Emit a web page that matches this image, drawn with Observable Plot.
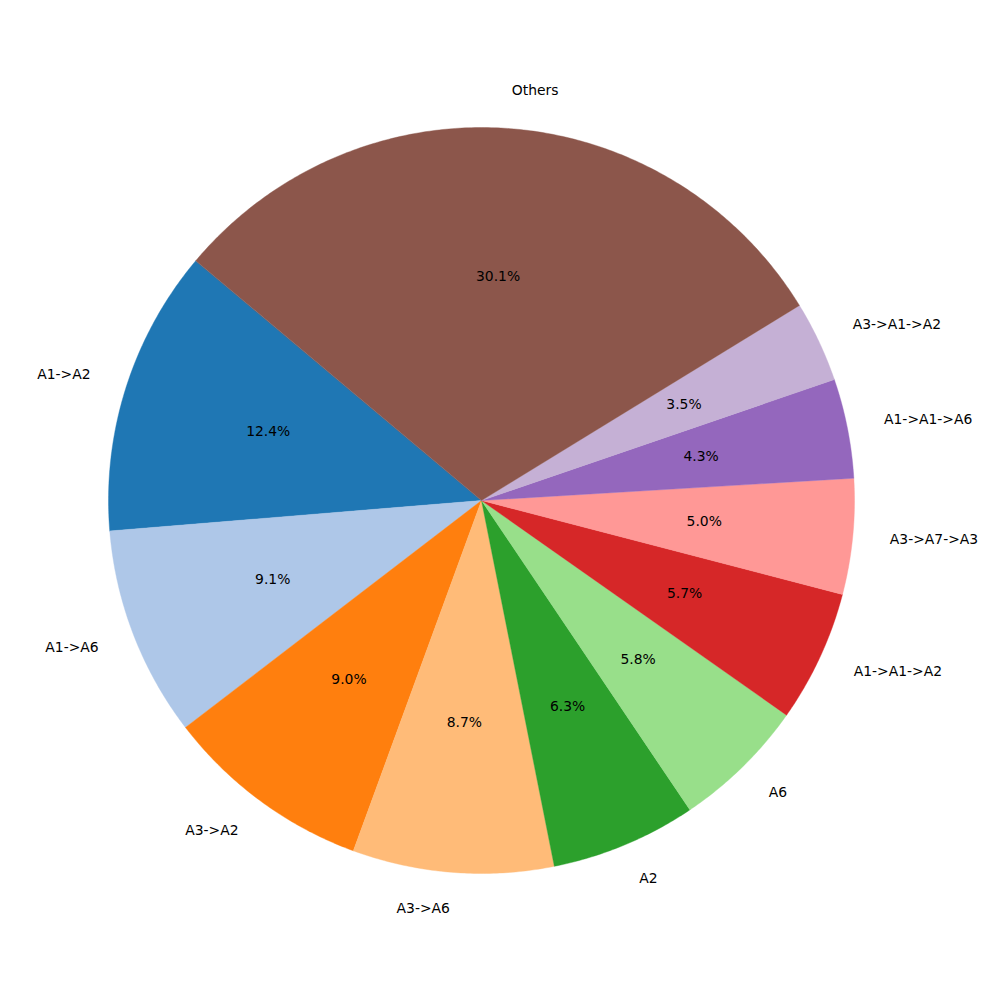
<!DOCTYPE html>
<html>
<head>
<meta charset="utf-8">
<script src="https://cdn.jsdelivr.net/npm/d3@7"></script>
<script src="https://cdn.jsdelivr.net/npm/@observablehq/plot@0.6"></script>
<style>
  html, body { margin: 0; padding: 0; background: #fff; }
  #chart svg { display: block; }
</style>
</head>
<body>
<div id="chart"></div>
<script>
const labels = ["A1->A2", "A1->A6", "A3->A2", "A3->A6", "A2", "A6", "A1->A1->A2", "A3->A7->A3", "A1->A1->A6", "A3->A1->A2", "Others"];
const values = [12.4, 9.1, 9.0, 8.7, 6.3, 5.8, 5.7, 5.0, 4.3, 3.5, 30.1];
const colors = ["#1f77b4", "#aec7e8", "#ff7f0e", "#ffbb78", "#2ca02c", "#98df8a", "#d62728", "#ff9896", "#9467bd", "#c5b0d5", "#8c564b"];
const startAngle = 140;

const total = d3.sum(values);
const rad = Math.PI / 180;
const wedgePts = [];
const outerLabels = [];
const pctLabels = [];
let cum = 0;
values.forEach((v, i) => {
  const a0 = startAngle + 360 * cum / total;
  cum += v;
  const a1 = startAngle + 360 * cum / total;
  wedgePts.push({label: labels[i], x: 0, y: 0});
  const n = Math.max(2, Math.ceil((a1 - a0) / 0.5));
  for (let k = 0; k <= n; k++) {
    const a = (a0 + (a1 - a0) * k / n) * rad;
    wedgePts.push({label: labels[i], x: Math.cos(a), y: Math.sin(a)});
  }
  const am = (a0 + a1) / 2 * rad;
  const lx = 1.1 * Math.cos(am), ly = 1.1 * Math.sin(am);
  outerLabels.push({label: labels[i], x: lx, y: ly, side: lx > 0 ? "right" : "left"});
  pctLabels.push({text: (100 * v / total).toFixed(1) + "%", x: 0.6 * Math.cos(am), y: 0.6 * Math.sin(am)});
});

const R = 373, cx = 481, cy = 500;
const font = "DejaVu Sans, sans-serif";
const chart = Plot.plot({
  width: 1000,
  height: 1000,
  margin: 0,
  x: {domain: [-cx / R, (1000 - cx) / R], axis: null},
  y: {domain: [-(1000 - cy) / R, cy / R], axis: null},
  color: {domain: labels, range: colors},
  style: {fontFamily: font, fontSize: "13.9px", background: "#fff"},
  marks: [
    Plot.line(wedgePts, {x: "x", y: "y", z: "label", fill: "label", stroke: "label", strokeWidth: 0.4, curve: "linear-closed"}),
    Plot.text(outerLabels.filter(d => d.side === "right"), {x: "x", y: "y", text: "label", textAnchor: "start", fill: "black", fontSize: 13.9, dy: -1}),
    Plot.text(outerLabels.filter(d => d.side === "left"), {x: "x", y: "y", text: "label", textAnchor: "end", fill: "black", fontSize: 13.9, dy: -1}),
    Plot.text(pctLabels, {x: "x", y: "y", text: "text", fill: "black", fontSize: 13.9, dy: -1})
  ]
});
document.getElementById("chart").appendChild(chart);
</script>
</body>
</html>
